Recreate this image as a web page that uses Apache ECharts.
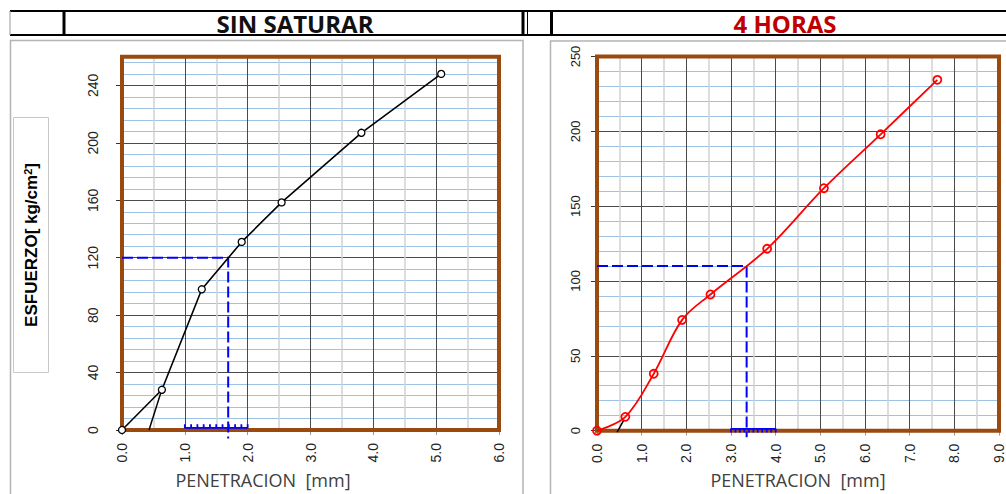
<!DOCTYPE html>
<html><head><meta charset="utf-8">
<script src="https://cdn.jsdelivr.net/npm/echarts@6/dist/echarts.min.js"></script>
<style>html,body{margin:0;padding:0;background:#fff;overflow:hidden}#c{width:1006px;height:494px}</style>
</head><body><div id="c"></div>
<script>
// ---- data: SIN SATURAR ----
const leftPenetration = [0, 0.635, 1.27, 1.905, 2.54, 3.81, 5.08];
const leftStress = [0, 28, 98, 131, 158.5, 207, 248];
const leftTangentPen = [0.43, 0.64];
const leftTangentStress = [0, 29];
const leftReadPen = [0, 1.69, 1.69];
const leftReadStress = [120, 120, -6];
const leftRulerTicks = [1.0, 1.1, 1.2, 1.3, 1.4, 1.5, 1.6, 1.7, 1.8, 1.9, 2.0];
const leftRulerBar = 1.5, leftRulerTip = 4;
const leftXTicks = [0, 1, 2, 3, 4, 5, 6];
const leftYTicks = [0, 40, 80, 120, 160, 200, 240];
const leftYMax = 260, leftYMinorStep = 8;

// ---- data: 4 HORAS ----
const rightPenetration = [0, 0.635, 1.27, 1.905, 2.54, 3.81, 5.08, 6.35, 7.62];
const rightStress = [0, 9.2, 38, 74, 91, 121.5, 162, 198, 234.4];
const rightTangentPen = [0.45, 0.6];
const rightTangentStress = [-1, 7];
const rightReadPen = [0, 3.35, 3.35];
const rightReadStress = [110, 110, -4.5];
const rightRulerTicks = [3.0, 3.1, 3.2, 3.3, 3.4, 3.5, 3.6, 3.7, 3.8, 3.9, 4.0];
const rightRulerBar = 1.2, rightRulerTip = -1.2;
const rightXTicks = [0, 1, 2, 3, 4, 5, 6, 7, 8, 9];
const rightYTicks = [0, 50, 100, 150, 200, 250];
const rightYMax = 250, rightYMinorStep = 10;

const titles = ['SIN SATURAR', '4 HORAS'];
const xTitle = 'PENETRACION  [mm]';

// ---- helpers ----
const pts = (xs, ys) => xs.map((x, i) => [x, ys[i]]);
const comb = (ticks, bar, tip) => {
  const out = [];
  ticks.forEach(t => { out.push([t, bar], [t, tip], [t, bar]); });
  return out;
};

const BROWN = '#9b4a0f';
const MAJOR = '#4a4a4a';
const MINORV = '#d2d2d2';
const MINORH = '#9cc3e6';
const LABEL_FONT = 'Liberation Sans';

function xAxisCfg(grid, ticks, nameGap, namePad) {
  return {
    type: 'value', gridIndex: grid, min: ticks[0], max: ticks[ticks.length - 1], interval: ticks[1] - ticks[0],
    axisLine: { show: false },
    axisTick: { show: true, length: 5, lineStyle: { color: '#999' } },
    axisLabel: { rotate: 90, fontSize: 14, color: '#222', fontFamily: LABEL_FONT, margin: 13,
      formatter: v => v.toFixed(1) },
    splitLine: { show: true, lineStyle: { color: MAJOR, width: 1 } },
    minorTick: { show: false, splitNumber: 2 },
    minorSplitLine: { show: true, lineStyle: { color: MINORV, width: 1.5 } },
    name: xTitle, nameLocation: 'middle', nameGap: nameGap,
    nameTextStyle: { fontFamily: 'Open Sans', fontSize: 18, color: '#404040', padding: namePad },
    z: 1
  };
}
function yMinorCfg(grid, max, step) {
  return {
    type: 'value', gridIndex: grid, position: 'right', min: 0, max: max, interval: step,
    axisLine: { show: false }, axisTick: { show: false }, axisLabel: { show: false },
    splitLine: { show: true, lineStyle: { color: MINORH, width: 1.2 } }, z: 0
  };
}
function yMainCfg(grid, ticks, max, fontSize, margin) {
  const last = ticks[ticks.length - 1];
  return {
    type: 'value', gridIndex: grid, position: 'left', min: 0, max: max, interval: ticks[1] - ticks[0],
    axisLine: { show: false },
    axisTick: { show: true, length: 6, lineStyle: { color: '#333' }, customValues: ticks },
    axisLabel: { rotate: 90, fontSize: fontSize, color: '#222', fontFamily: LABEL_FONT, margin: margin,
      customValues: ticks, formatter: v => (v > last ? '' : String(v)) },
    splitLine: { show: true, lineStyle: { color: MAJOR, width: 1 } },
    z: 1
  };
}

const series = [
  // left chart
  { type: 'line', xAxisIndex: 0, yAxisIndex: 1, data: comb(leftRulerTicks, leftRulerBar, leftRulerTip),
    symbol: 'none', clip: false, lineStyle: { color: '#0000ff', width: 1.8 }, z: 8 },
  { type: 'line', xAxisIndex: 0, yAxisIndex: 1, data: pts(leftReadPen, leftReadStress),
    symbol: 'none', clip: false, lineStyle: { color: '#0000ff', width: 2, type: [11, 4] }, z: 8 },
  { type: 'line', xAxisIndex: 0, yAxisIndex: 1, data: pts(leftTangentPen, leftTangentStress),
    symbol: 'none', clip: false, lineStyle: { color: '#000', width: 1.5 }, z: 9 },
  { type: 'line', xAxisIndex: 0, yAxisIndex: 1, data: pts(leftPenetration, leftStress),
    symbol: 'circle', symbolSize: 7, clip: false,
    lineStyle: { color: '#000', width: 1.6 },
    itemStyle: { color: '#fff', borderColor: '#000', borderWidth: 1.3 }, z: 10 },
  // right chart
  { type: 'line', xAxisIndex: 1, yAxisIndex: 3, data: comb(rightRulerTicks, rightRulerBar, rightRulerTip),
    symbol: 'none', clip: false, lineStyle: { color: '#0000ff', width: 1.8 }, z: 8 },
  { type: 'line', xAxisIndex: 1, yAxisIndex: 3, data: pts(rightReadPen, rightReadStress),
    symbol: 'none', clip: false, lineStyle: { color: '#0000ff', width: 2, type: [11, 4] }, z: 8 },
  { type: 'line', xAxisIndex: 1, yAxisIndex: 3, data: pts(rightTangentPen, rightTangentStress),
    symbol: 'none', clip: false, lineStyle: { color: '#000', width: 1.5 }, z: 9 },
  { type: 'line', xAxisIndex: 1, yAxisIndex: 3, data: pts(rightPenetration, rightStress),
    symbol: 'circle', symbolSize: 8, clip: false, smooth: 0.35,
    lineStyle: { color: '#ff0000', width: 1.8 },
    itemStyle: { color: 'rgba(255,255,255,0)', borderColor: '#ff0000', borderWidth: 1.8 }, z: 10 }
];

const graphic = [
  // header row
  { type: 'line', shape: { x1: 10, y1: 11, x2: 1006, y2: 11 }, style: { stroke: '#000', lineWidth: 2 }, silent: true },
  { type: 'line', shape: { x1: 10, y1: 35, x2: 1006, y2: 35 }, style: { stroke: '#000', lineWidth: 2 }, silent: true },
  { type: 'line', shape: { x1: 10, y1: 11, x2: 10, y2: 35 }, style: { stroke: '#999', lineWidth: 1 }, silent: true },
  { type: 'line', shape: { x1: 64, y1: 11, x2: 64, y2: 35 }, style: { stroke: '#000', lineWidth: 3 }, silent: true },
  { type: 'line', shape: { x1: 523, y1: 11, x2: 523, y2: 35 }, style: { stroke: '#000', lineWidth: 3 }, silent: true },
  { type: 'line', shape: { x1: 527.5, y1: 11, x2: 527.5, y2: 35 }, style: { stroke: '#000', lineWidth: 1 }, silent: true },
  { type: 'line', shape: { x1: 551.5, y1: 11, x2: 551.5, y2: 35 }, style: { stroke: '#000', lineWidth: 3 }, silent: true },
  { type: 'text', x: 295, y: 23, silent: true,
    style: { text: titles[0], font: 'bold 24px "Open Sans"', fill: '#111', align: 'center', verticalAlign: 'middle' } },
  { type: 'text', x: 785, y: 23, silent: true,
    style: { text: titles[1], font: 'bold 24px "Open Sans"', fill: '#c00000', align: 'center', verticalAlign: 'middle' } },
  // panel boxes
  { type: 'rect', shape: { x: 10.5, y: 40.5, width: 512.5, height: 470 }, style: { fill: 'none', stroke: '#b4b4b4', lineWidth: 1.5 }, silent: true, z: -1 },
  { type: 'rect', shape: { x: 550.5, y: 41, width: 470, height: 470 }, style: { fill: 'none', stroke: '#b4b4b4', lineWidth: 1.5 }, silent: true, z: -1 },
  // y title box
  { type: 'rect', shape: { x: 13.5, y: 117.5, width: 35, height: 255 }, style: { fill: '#fff', stroke: '#c8c8c8', lineWidth: 1 }, silent: true },
  { type: 'text', x: 31, y: 245, rotation: Math.PI / 2, silent: true,
    style: { text: '{b|ESFUERZO[ kg/cm}{s|2}{b|]}', align: 'center', verticalAlign: 'middle',
      rich: {
        b: { fontSize: 17, fontWeight: 'bold', fontFamily: LABEL_FONT, fill: '#000' },
        s: { fontSize: 11, fontWeight: 'bold', fontFamily: LABEL_FONT, fill: '#000', verticalAlign: 'top' }
      } } }
];

const option = {
  animation: false,
  backgroundColor: '#fff',
  grid: [
    { left: 122, top: 56.7, width: 377, height: 376.6, show: true, borderColor: BROWN, borderWidth: 4, z: 5, containLabel: false },
    { left: 597, top: 56.5, width: 405.3, height: 379.5, show: true, borderColor: BROWN, borderWidth: 4, z: 5, containLabel: false }
  ],
  xAxis: [
    xAxisCfg(0, leftXTicks, 41, [0, 95, 0, 0]),
    xAxisCfg(1, rightXTicks, 38, [0, 0, 0, 0])
  ],
  yAxis: [
    yMinorCfg(0, leftYMax, leftYMinorStep),
    yMainCfg(0, leftYTicks, leftYMax, 14, 22),
    yMinorCfg(1, rightYMax, rightYMinorStep),
    yMainCfg(1, rightYTicks, rightYMax, 13, 15)
  ],
  series: series,
  graphic: graphic
};

const chart = echarts.init(document.getElementById('c'), null, { renderer: 'svg', width: 1006, height: 494 });
chart.setOption(option);
</script>
</body></html>
